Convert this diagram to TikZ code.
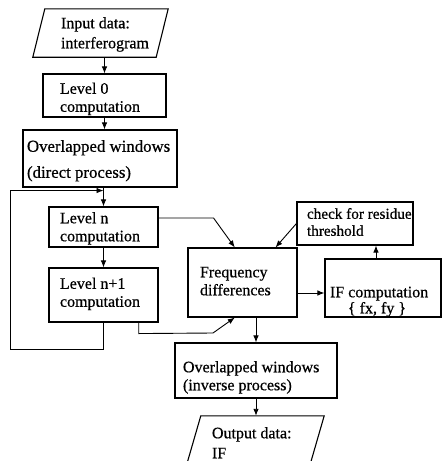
\documentclass[tikz,border=0pt]{standalone}
\usepackage{fontspec}
\setmainfont{Liberation Serif}[FakeBold=0.6]
\usetikzlibrary{arrows.meta,calc}
\newcommand\bt[4]{\makebox[#1][l]{\hspace*{#2}\raisebox{#3}[0pt][0pt]{\begin{tabular}{@{}l@{}}#4\end{tabular}}}}
\begin{document}
\begin{tikzpicture}[x=1pt,y=-1pt,
  every node/.style={font=\fontsize{16}{18}\selectfont},
  box/.style={draw, line width=1.1pt, inner sep=0pt, rectangle},
  plain/.style={inner sep=0pt, rectangle},
  edge/.style={line width=1.1pt},
  arr/.style={line width=0.9pt, -{Latex[length=7pt,width=5.5pt]}}]
\useasboundingbox (0,0) rectangle (443,461);
\clip (0,0) rectangle (443,461);
\fill[white] (0,0) rectangle (443,461);

\node[plain, minimum height=48pt] (inp) at (100.5,33) {\bt{123pt}{22pt}{-6pt}{Input data:\\[2pt]interferogram}};
\draw[edge] ([xshift=6pt]inp.north west) -- ([xshift=6pt]inp.north east) -- ([xshift=-6pt]inp.south east) -- ([xshift=-6pt]inp.south west) -- cycle;

\node[box, minimum height=43pt] (l0) at (104.5,95.5) {\bt{123pt}{17pt}{-8pt}{Level 0\\computation}};
\node[box, minimum height=57pt] (od) at (100,158.5) {\bt{154pt}{4pt}{-7pt}{\fontsize{16.8}{18}\selectfont Overlapped windows\\[8pt]\fontsize{16.8}{18}\selectfont (direct process)}};
\node[box, minimum height=40pt] (ln) at (103.5,227) {\bt{109pt}{11pt}{-6pt}{Level n\\computation}};
\node[box, minimum height=54pt] (ln1) at (103.5,295) {\bt{109pt}{11pt}{-3.5pt}{Level n+1\\computation}};
\node[box, minimum height=69pt] (freq) at (242.5,282.5) {\bt{109pt}{12pt}{-4.5pt}{Frequency\\differences}};
\node[box, minimum height=43pt, font=\fontsize{15.2}{17}\selectfont] (chk) at (355,223.5) {\bt{116pt}{10pt}{-4pt}{check for residue\\threshold}};
\node[box, minimum height=58pt] (ifc) at (383,288) {\bt{116pt}{5pt}{-18pt}{IF computation\\[-2pt]\hspace*{18pt}\{ fx, fy \}}};
\node[box, minimum height=55pt] (oi) at (256,370.5) {\bt{162pt}{8pt}{-11.5pt}{Overlapped windows\\(inverse process)}};

\node[plain, minimum height=48pt] (out) at (255.5,440) {\bt{123pt}{18pt}{-9pt}{Output data:\\[2pt]IF}};
\draw[edge] ([xshift=7pt]out.north west) -- ([xshift=7pt]out.north east) -- ([xshift=-7pt]out.south east) -- ([xshift=-7pt]out.south west) -- cycle;

\coordinate (join) at ($(od.south -| ln.north)+(0,3)$);
\coordinate (loopc) at (10,349);
\coordinate (bend) at (213,333);
\coordinate (ifn) at ($(ifc.north west)!0.44!(ifc.north east)$);

\draw[arr] (inp.south -| l0.north) -- (l0.north);
\draw[arr] (l0.south) -- (l0.south |- od.north);
\draw[arr] (od.south -| ln.north) -- (ln.north);
\draw[arr] (ln1.south) |- (loopc) |- (join);
\draw[arr] (ln.south) -- (ln1.north);
\draw[arr] ([yshift=9pt]ln.east) -- ++(55,0) -- ($(freq.north west)!0.43!(freq.north east)$);
\draw[arr] ($(ln1.south west)!0.82!(ln1.south east)$) -- ++(0,11) -- (bend) -- ($(freq.south west)!0.43!(freq.south east)$);
\draw[arr] (chk.west) -- ($(freq.north west)!0.8!(freq.north east)$);
\draw[arr] ([yshift=-10.5pt]freq.east) -- ([yshift=-10.5pt]freq.east -| ifc.west);
\draw[arr] (ifn) -- (ifn |- chk.south);
\draw[arr] (oi.north |- freq.south) -- (oi.north);
\draw[arr] (oi.south) -- (oi.south |- out.north);
\end{tikzpicture}
\end{document}
